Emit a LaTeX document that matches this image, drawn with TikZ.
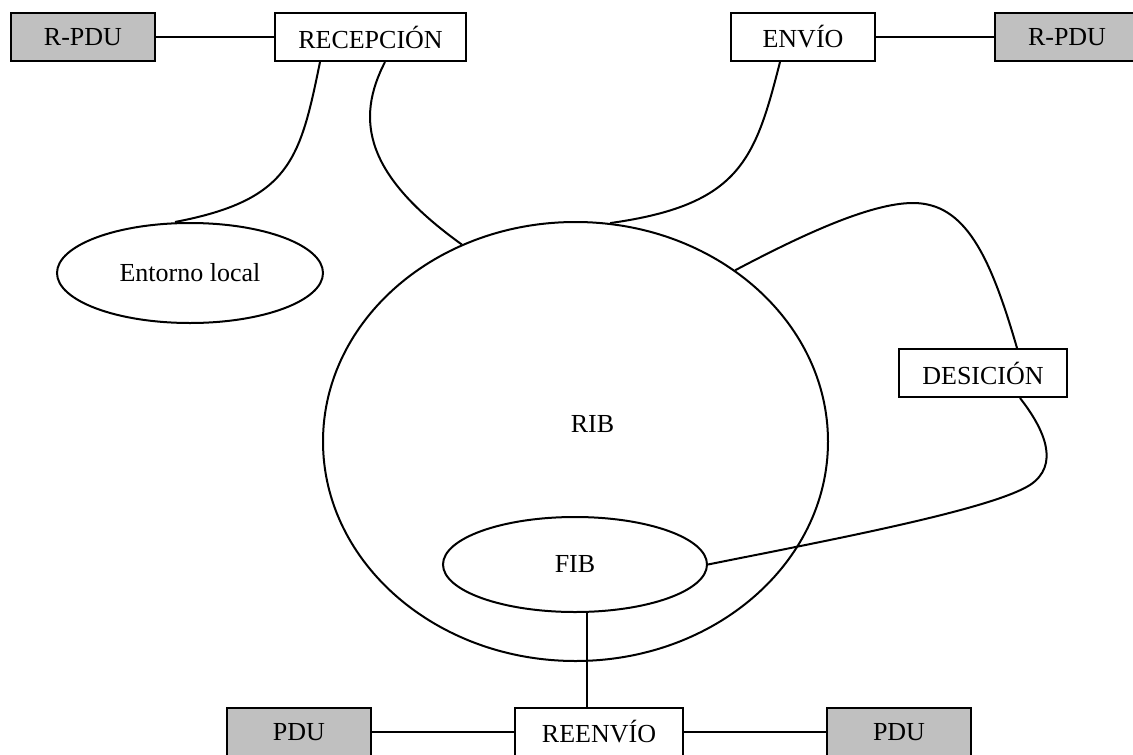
\documentclass[tikz,border=0pt]{standalone}
\usepackage{fontspec}
\setmainfont{Liberation Serif}
\usetikzlibrary{shapes.geometric}
\definecolor{pdugray}{HTML}{C0C0C0}
\begin{document}
\begin{tikzpicture}[x=1pt,y=-1pt,
  every node/.style={font=\fontsize{26}{30}\selectfont, inner sep=0pt, line width=2pt},
  box/.style={draw, rectangle, minimum height=48pt, minimum width=144pt},
  pdubox/.style={box, fill=pdugray},
  oval/.style={draw, ellipse},
  link/.style={line width=2pt}]
\useasboundingbox (0,0) rectangle (1133,755);

% upper row
\node[pdubox] (rpduL) at (83,37) {R-PDU};
\node[box, minimum width=191pt] (rec) at (370.5,37) {RECEPCIÓN};
\node[box] (env) at (803,37) {ENVÍO};
\node[pdubox] (rpduR) at (1067,37) {R-PDU};

% tables and environment
\node[oval, minimum width=266pt, minimum height=100pt] (ent) at (190,273) {Entorno local};
\node[oval, minimum width=505pt, minimum height=439pt,
      label={[xshift=17pt,yshift=17pt]center:RIB}] (rib) at (575.5,441.5) {};
\node[oval, minimum width=264pt, minimum height=95pt] (fib) at (575,564.5) {FIB};

% decision process
\node[box, minimum width=168pt] (desi) at (983,373) {DESICIÓN};

% lower row
\node[pdubox] (pduL) at (299,732) {PDU};
\node[box, minimum width=168pt] (rnv) at (599,732) {REENVÍO};
\node[pdubox] (pduR) at (899,732) {PDU};

% straight links
\draw[link] (rpduL) -- (rec);
\draw[link] (env) -- (rpduR);
\draw[link] (pduL) -- (rnv);
\draw[link] (rnv) -- (pduR);
\draw[link] ([xshift=12pt]fib.south) -- ([xshift=-12pt]rnv.north);

% curved links
\draw[link] ([xshift=-50.5pt]rec.south) .. controls (300,160) and (290,200) .. ([xshift=-15pt]ent.north);
\draw[link] ([xshift=14.5pt]rec.south) .. controls (355,120) and (365,175) .. (rib.120);
\draw[link] ([xshift=-23pt]env.south) .. controls (755,160) and (740,205) .. (rib.81);
\draw[link] (rib.47) .. controls (800,236) and (870,203) .. (913,203)
            .. controls (965,203) and (990,255) .. ([xshift=34pt]desi.north);
\draw[link] ([xshift=37pt]desi.south) .. controls (1045,430) and (1060,465) .. (1030,485)
            .. controls (990,510) and (830,540) .. (fib.east);
\end{tikzpicture}
\end{document}
